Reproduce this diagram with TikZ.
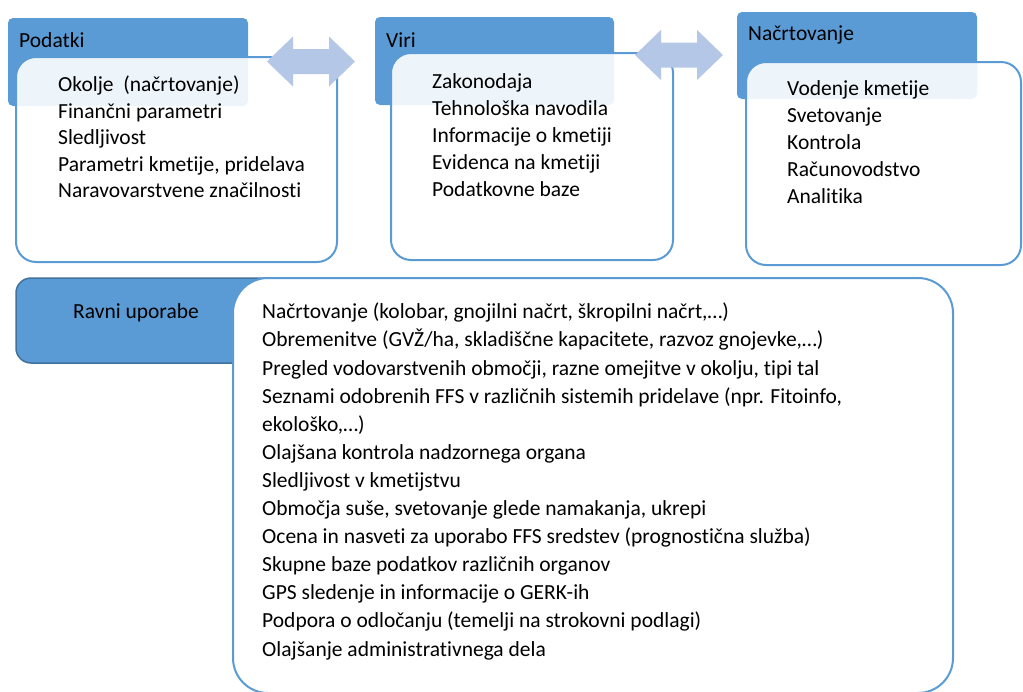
\documentclass[tikz,border=0pt]{standalone}
\usepackage{fontspec}
\setmainfont[Ligatures={NoCommon}]{Carlito}
\definecolor{hblue}{HTML}{5B9BD5}
\definecolor{hdark}{HTML}{41719C}
\definecolor{arrblue}{HTML}{B4C7E7}
\begin{document}
\begin{tikzpicture}[x=1pt,y=-1pt,
  hdr/.style={fill=hblue, draw=none, rounded corners=5pt, inner sep=0pt},
  bodybox/.style={draw=hblue, line width=2pt, fill=white, fill opacity=0.9, rounded corners=20pt, inner sep=0pt},
  txt/.style={anchor=mid west, inner sep=0pt, font=\fontsize{21.5}{26}\selectfont, text=black, yshift=-3.5pt},
  blockarrow/.style={fill=arrblue, draw=none},
  pics/dblarrow/.style={code={
    \path[blockarrow] (-44,0) -- (-18,-25) -- (-18,-12.5) -- (18,-12.5) -- (18,-25) -- (44,0)
       -- (18,25) -- (18,12.5) -- (-18,12.5) -- (-18,25) -- cycle;}}
]
\useasboundingbox (0,0) rectangle (1023,691);
\clip (0,0) rectangle (1023,691);
% --- Podatki
\node[hdr, minimum width=240pt, minimum height=88pt] (podh) at (128,62) {};
\node[bodybox, minimum width=321pt, minimum height=205pt] (podb) at (176.5,159.5) {};
\node[txt] (podt) at (19,42) {Podatki};
\foreach \t [count=\i from 0] in {{Okolje\ \ (načrtovanje)},{Finančni parametri},{Sledljivost},{Parametri kmetije, pridelava},{Naravovarstvene značilnosti}}
  \node[txt] (pod\i) at (58,{86+26.4*\i}) {\t};
% --- Viri
\node[hdr, minimum width=239pt, minimum height=88pt] (virh) at (494.5,61) {};
\node[bodybox, minimum width=282pt, minimum height=207pt] (virb) at (532,156.5) {};
\node[txt] (virt) at (386,42) {Viri};
\foreach \t [count=\i from 0] in {{Zakonodaja},{Tehnološka navodila},{Informacije o kmetiji},{Evidenca na kmetiji},{Podatkovne baze}}
  \node[txt] (vir\i) at (432,{83+26.8*\i}) {\t};
% --- Načrtovanje
\node[hdr, minimum width=240pt, minimum height=87pt] (nach) at (857,55.5) {};
\node[bodybox, minimum width=275pt, minimum height=203pt] (nacb) at (883.5,163.5) {};
\node[txt] (nact) at (748,35) {Načrtovanje};
\foreach \t [count=\i from 0] in {{Vodenje kmetije},{Svetovanje},{Kontrola},{Računovodstvo},{Analitika}}
  \node[txt] (nac\i) at (787,{90+26.8*\i}) {\t};
% --- block arrows between boxes
\pic (arr1) at (311,61.5) {dblarrow};
\pic (arr2) at (679,55) {dblarrow};
% --- Ravni uporabe
\node[fill=hblue, draw=hdark, line width=1.5pt, rounded corners=15pt, minimum width=284pt, minimum height=85pt, inner sep=0pt] (ravh) at (158,320.5) {};
\node[anchor=center, inner sep=0pt, font=\fontsize{21.5}{26}\selectfont] (ravt) at (136,313) {Ravni uporabe};
\node[draw=hblue, line width=2pt, fill=white, rounded corners=35pt, minimum width=720pt, minimum height=415pt, inner sep=0pt] (ravb) at (593,485.5) {};
\foreach \t [count=\i from 0] in {
 {Načrtovanje (kolobar, gnojilni načrt, škropilni načrt,…)},
 {Obremenitve (GVŽ/ha, skladiščne kapacitete, razvoz gnojevke,…)},
 {Pregled vodovarstvenih območji, razne omejitve v okolju, tipi tal},
 {Seznami odobrenih FFS v različnih sistemih pridelave (npr. Fitoinfo,},
 {ekološko,…)},
 {Olajšana kontrola nadzornega organa},
 {Sledljivost v kmetijstvu},
 {Območja suše, svetovanje glede namakanja, ukrepi},
 {Ocena in nasveti za uporabo FFS sredstev (prognostična služba)},
 {Skupne baze podatkov različnih organov},
 {GPS sledenje in informacije o GERK-ih},
 {Podpora o odločanju (temelji na strokovni podlagi)},
 {Olajšanje administrativnega dela}}
  \node[txt] (rav\i) at (262,{313+28.1*\i}) {\t};
\end{tikzpicture}
\end{document}
